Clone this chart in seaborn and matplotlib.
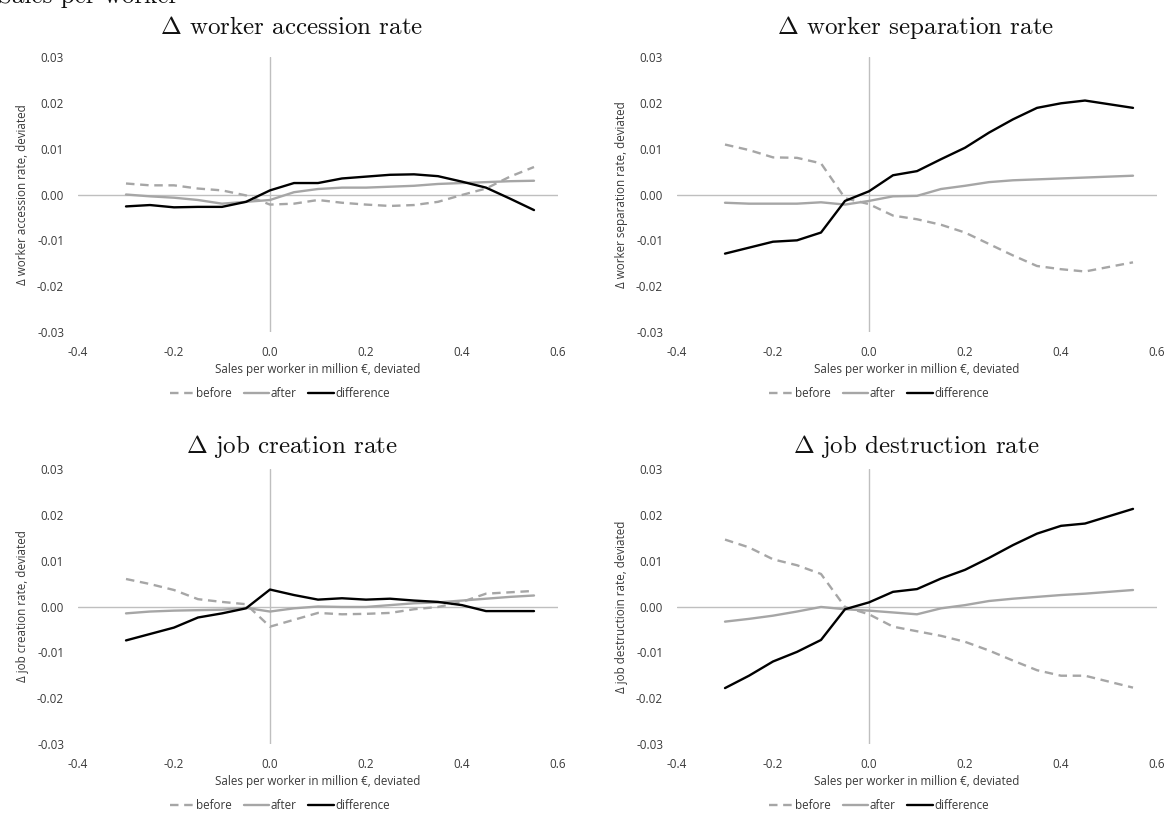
import matplotlib
matplotlib.use("Agg")
import matplotlib.pyplot as plt
from matplotlib.ticker import FuncFormatter, FixedLocator
import pandas as pd
import seaborn as sns

# Sales per worker (million €, deviated) at which every rate is evaluated
x = [-0.30, -0.25, -0.20, -0.15, -0.10, -0.05, 0.00, 0.05, 0.10,
     0.15, 0.20, 0.25, 0.30, 0.35, 0.40, 0.45, 0.50, 0.55]

# Δ worker accession rate
acc_before = [0.0024, 0.0020, 0.0020, 0.0013, 0.0009, -0.0002, -0.0022, -0.0020, -0.0012,
              -0.0018, -0.0022, -0.0025, -0.0023, -0.0016, -0.0001, 0.0013, 0.0039, 0.0060]
acc_after = [0.0000, -0.0004, -0.0007, -0.0012, -0.0020, -0.0016, -0.0012, 0.0005, 0.0012,
             0.0015, 0.0015, 0.0017, 0.0019, 0.0023, 0.0025, 0.0027, 0.0029, 0.0030]
acc_diff = [-0.0026, -0.0023, -0.0028, -0.0027, -0.0027, -0.0016, 0.0009, 0.0025, 0.0025,
            0.0035, 0.0039, 0.0043, 0.0044, 0.0040, 0.0028, 0.0015, -0.0009, -0.0034]

# Δ worker separation rate
sep_before = [0.0109, 0.0097, 0.0081, 0.0080, 0.0068, -0.0008, -0.0021, -0.0046, -0.0054,
              -0.0066, -0.0083, -0.0108, -0.0133, -0.0156, -0.0163, -0.0168, -0.0158, -0.0148]
sep_after = [-0.0018, -0.0020, -0.0020, -0.0020, -0.0017, -0.0022, -0.0014, -0.0004, -0.0003,
             0.0012, 0.0019, 0.0027, 0.0031, 0.0033, 0.0035, 0.0037, 0.0039, 0.0041]
sep_diff = [-0.0129, -0.0116, -0.0103, -0.0100, -0.0083, -0.0014, 0.0007, 0.0042, 0.0051,
            0.0077, 0.0102, 0.0135, 0.0164, 0.0189, 0.0199, 0.0205, 0.0197, 0.0189]

# Δ job creation rate
jc_before = [0.0060, 0.0049, 0.0036, 0.0016, 0.0010, 0.0005, -0.0044, -0.0029, -0.0014,
             -0.0017, -0.0016, -0.0014, -0.0006, -0.0001, 0.0010, 0.0028, 0.0031, 0.0034]
jc_after = [-0.0015, -0.0011, -0.0009, -0.0008, -0.0007, -0.0003, -0.0011, -0.0004, 0.0000,
            -0.0001, -0.0001, 0.0003, 0.0007, 0.0009, 0.0013, 0.0017, 0.0021, 0.0024]
jc_diff = [-0.0074, -0.0060, -0.0046, -0.0024, -0.0015, -0.0004, 0.0037, 0.0025, 0.0015,
           0.0018, 0.0015, 0.0017, 0.0013, 0.0010, 0.0003, -0.0010, -0.0010, -0.0010]

# Δ job destruction rate
jd_before = [0.0146, 0.0129, 0.0103, 0.0090, 0.0071, -0.0001, -0.0017, -0.0044, -0.0054,
             -0.0064, -0.0077, -0.0096, -0.0118, -0.0139, -0.0151, -0.0151, -0.0164, -0.0177]
jd_after = [-0.0033, -0.0027, -0.0020, -0.0011, -0.0001, -0.0006, -0.0009, -0.0013, -0.0017,
            -0.0004, 0.0003, 0.0012, 0.0017, 0.0021, 0.0025, 0.0028, 0.0032, 0.0036]
jd_diff = [-0.0178, -0.0151, -0.0120, -0.0099, -0.0073, -0.0006, 0.0009, 0.0032, 0.0038,
           0.0061, 0.0080, 0.0106, 0.0134, 0.0159, 0.0176, 0.0181, 0.0197, 0.0213]

titles = [r"$\Delta$ worker accession rate", r"$\Delta$ worker separation rate",
          r"$\Delta$ job creation rate", r"$\Delta$ job destruction rate"]
ylabels = ["Δ worker accession rate, deviated", "Δ worker separation rate, deviated",
           "Δ job creation rate, deviated", "Δ job destructioin rate, deviated"]
xlabel = "Sales per worker in million €, deviated"
series_names = ["before", "after", "difference"]
x_ticks = [-0.4, -0.2, 0.0, 0.2, 0.4, 0.6]
y_ticks = [-0.03, -0.02, -0.01, 0.00, 0.01, 0.02, 0.03]

panels = [
    (acc_before, acc_after, acc_diff),
    (sep_before, sep_after, sep_diff),
    (jc_before, jc_after, jc_diff),
    (jd_before, jd_after, jd_diff),
]

sns.set_theme(style="white")
plt.rcParams["font.family"] = ["Open Sans", "DejaVu Sans"]
plt.rcParams["mathtext.fontset"] = "cm"

W, H = 1168, 814
fig = plt.figure(figsize=(W / 100, H / 100), dpi=100)

GREY = "#A6A6A6"
AXIS_GREY = "#BFBFBF"
TEXT = "#3A3A3A"
FS = 8.4
styles = {
    "before": dict(color=GREY, linestyle=(0, (3.6, 2.4)), linewidth=1.7),
    "after": dict(color=GREY, linestyle="-", linewidth=1.7),
    "difference": dict(color="black", linestyle="-", linewidth=1.7),
}

# axes boxes in pixels: left, top, width, height
boxes = [(78, 57, 480, 275), (677, 57, 480, 275),
         (78, 469, 480, 275), (677, 469, 480, 275)]
title_centers = [(292, 34), (916, 34), (292, 453), (916, 453)]

fmt_x = FuncFormatter(lambda v, p: f"{v:.1f}")
fmt_y = FuncFormatter(lambda v, p: f"{v:.2f}")

for i, (vals, box) in enumerate(zip(panels, boxes)):
    l, t, w, h = box
    ax = fig.add_axes([l / W, 1 - (t + h) / H, w / W, h / H])
    df = pd.DataFrame({"x": x, "before": vals[0], "after": vals[1], "difference": vals[2]})
    for name in series_names:
        sns.lineplot(data=df, x="x", y=name, ax=ax, label=name, **styles[name])

    ax.axhline(0, color=AXIS_GREY, linewidth=1.0, zorder=0)
    ax.axvline(0, color=AXIS_GREY, linewidth=1.0, zorder=0)
    ax.set_xlim(-0.4, 0.6)
    ax.set_ylim(-0.03, 0.03)
    for s in ax.spines.values():
        s.set_visible(False)
    ax.xaxis.set_major_locator(FixedLocator(x_ticks))
    ax.yaxis.set_major_locator(FixedLocator(y_ticks))
    ax.xaxis.set_major_formatter(fmt_x)
    ax.yaxis.set_major_formatter(fmt_y)
    ax.tick_params(axis="x", length=0, pad=10, labelsize=FS, labelcolor=TEXT)
    ax.tick_params(axis="y", length=0, pad=10, labelsize=FS, labelcolor=TEXT)
    ax.grid(False)

    ax.set_xlabel(xlabel, fontsize=FS, color=TEXT, labelpad=3)
    ax.set_ylabel(ylabels[i], fontsize=FS, color=TEXT)
    ax.yaxis.set_label_coords(-49 / w, 0.5)

    handles, labels = ax.get_legend_handles_labels()
    ax.legend(handles, labels, loc="center", bbox_to_anchor=(0.42, -0.225),
              ncol=3, frameon=False, fontsize=FS, handlelength=2.2,
              handletextpad=0.1, columnspacing=1.0, labelcolor=TEXT)

    cx, cy = title_centers[i]
    fig.text(cx / W, 1 - cy / H, titles[i], ha="center", va="baseline",
             fontsize=18, family="cmr10", color="#111111")

fig.text(-2 / W, 1 - 3 / H, "Sales per worker", ha="left", va="baseline",
         fontsize=18, family="cmr10", color="#111111")

fig.savefig("out.png", dpi=100)
